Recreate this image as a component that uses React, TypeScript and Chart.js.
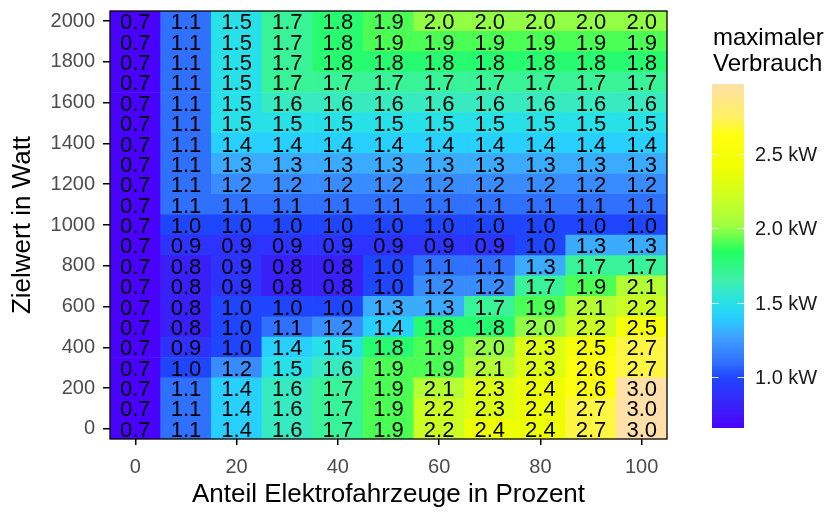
import React, { useEffect, useRef } from "react";
import { Chart, registerables } from "chart.js";

Chart.register(...registerables);

// ---------- data ----------
const anteilProzent = [0, 10, 20, 30, 40, 50, 60, 70, 80, 90, 100];
const zielwertWatt = [0, 100, 200, 300, 400, 500, 600, 700, 800, 900, 1000, 1100, 1200, 1300, 1400, 1500, 1600, 1700, 1800, 1900, 2000];
const xTickValues = [0, 20, 40, 60, 80, 100];
const yTickValues = [0, 200, 400, 600, 800, 1000, 1200, 1400, 1600, 1800, 2000];
const legendTickValues = [1.0, 1.5, 2.0, 2.5];

// maximaler Verbrauch (kW), one row per Zielwert (0 W first), one value per Anteil
const maxVerbrauch: number[][] = [
  [0.66, 1.1, 1.4, 1.6, 1.7, 1.9, 2.2, 2.4, 2.4, 2.7, 2.97], // 0
  [0.66, 1.1, 1.4, 1.6, 1.7, 1.9, 2.2, 2.3, 2.4, 2.7, 2.97], // 100
  [0.66, 1.1, 1.4, 1.6, 1.7, 1.9, 2.1, 2.3, 2.4, 2.6, 2.97], // 200
  [0.66, 1.0, 1.2, 1.5, 1.6, 1.9, 1.9, 2.1, 2.3, 2.6, 2.7], // 300
  [0.66, 0.9, 1.0, 1.4, 1.5, 1.8, 1.9, 2.0, 2.3, 2.5, 2.7], // 400
  [0.66, 0.8, 1.0, 1.1, 1.2, 1.4, 1.8, 1.8, 2.0, 2.2, 2.5], // 500
  [0.66, 0.8, 1.0, 1.0, 1.0, 1.3, 1.3, 1.7, 1.9, 2.1, 2.2], // 600
  [0.66, 0.8, 0.9, 0.8, 0.8, 1.0, 1.2, 1.2, 1.7, 1.9, 2.1], // 700
  [0.66, 0.8, 0.9, 0.8, 0.8, 1.0, 1.1, 1.1, 1.3, 1.7, 1.7], // 800
  [0.66, 0.9, 0.9, 0.9, 0.9, 0.9, 0.9, 0.9, 1.0, 1.3, 1.3], // 900
  [0.66, 1.0, 1.0, 1.0, 1.0, 1.0, 1.0, 1.0, 1.0, 1.0, 1.0], // 1000
  [0.66, 1.1, 1.1, 1.1, 1.1, 1.1, 1.1, 1.1, 1.1, 1.1, 1.1], // 1100
  [0.66, 1.1, 1.2, 1.2, 1.2, 1.2, 1.2, 1.2, 1.2, 1.2, 1.2], // 1200
  [0.66, 1.1, 1.3, 1.3, 1.3, 1.3, 1.3, 1.3, 1.3, 1.3, 1.3], // 1300
  [0.66, 1.1, 1.4, 1.4, 1.4, 1.4, 1.4, 1.4, 1.4, 1.4, 1.4], // 1400
  [0.66, 1.1, 1.5, 1.5, 1.5, 1.5, 1.5, 1.5, 1.5, 1.5, 1.5], // 1500
  [0.66, 1.1, 1.5, 1.6, 1.6, 1.6, 1.6, 1.6, 1.6, 1.6, 1.6], // 1600
  [0.66, 1.1, 1.5, 1.7, 1.7, 1.7, 1.7, 1.7, 1.7, 1.7, 1.7], // 1700
  [0.66, 1.1, 1.5, 1.7, 1.8, 1.8, 1.8, 1.8, 1.8, 1.8, 1.8], // 1800
  [0.66, 1.1, 1.5, 1.7, 1.8, 1.9, 1.9, 1.9, 1.9, 1.9, 1.9], // 1900
  [0.66, 1.1, 1.5, 1.7, 1.8, 1.9, 2.0, 2.0, 2.0, 2.0, 2.0], // 2000
];

// ---------- style ----------
const FONT = "'Liberation Sans', Arial, Helvetica, sans-serif";

const colorStops: [number, string][] = [
  [0.65, "#4B00FF"],
  [0.8, "#3A20F8"],
  [1.0, "#2045FF"],
  [1.1, "#3070FF"],
  [1.27, "#40A0FF"],
  [1.4, "#28D0FF"],
  [1.5, "#28E0E8"],
  [1.66, "#40F0A8"],
  [1.84, "#20FF60"],
  [2.02, "#A0FF40"],
  [2.22, "#D0FF20"],
  [2.41, "#F0FF00"],
  [2.63, "#FFFF10"],
  [2.74, "#FFF060"],
  [2.97, "#FFE0A8"],
];

function hexToRgb(h: string): number[] {
  const n = parseInt(h.slice(1), 16);
  return [(n >> 16) & 255, (n >> 8) & 255, n & 255];
}

function colorFor(v: number): string {
  if (v <= colorStops[0][0]) return colorStops[0][1];
  for (let i = 1; i < colorStops.length; i++) {
    const [v1, c1] = colorStops[i];
    if (v <= v1) {
      const [v0, c0] = colorStops[i - 1];
      const t = (v - v0) / (v1 - v0);
      const a = hexToRgb(c0);
      const b = hexToRgb(c1);
      const m = a.map((x, k) => Math.round(x + (b[k] - x) * t));
      return `rgb(${m[0]},${m[1]},${m[2]})`;
    }
  }
  return colorStops[colorStops.length - 1][1];
}

export default function App() {
  const ref = useRef<HTMLCanvasElement>(null);

  useEffect(() => {
    document.body.style.margin = "0";
    const canvas = ref.current;
    if (!canvas) return;

    const allVals = maxVerbrauch.flat();
    const vMin = Math.min(...allVals);
    const vMax = Math.max(...allVals);

    const datasets = zielwertWatt.map((z, r) => ({
      label: `${z} W`,
      data: anteilProzent.map((x) => ({ x, y: [z - 50, z + 50] })),
      values: maxVerbrauch[r],
      backgroundColor: maxVerbrauch[r].map(colorFor),
      borderWidth: 0,
      barPercentage: 1,
      categoryPercentage: 1,
    }));

    const cellLabelPlugin = {
      id: "cellLabels",
      afterDatasetsDraw(chart: any) {
        const { ctx, chartArea } = chart;
        ctx.save();
        ctx.beginPath();
        ctx.rect(chartArea.left, chartArea.top, chartArea.right - chartArea.left, chartArea.bottom - chartArea.top);
        ctx.clip();
        ctx.fillStyle = "#000";
        ctx.font = `22px ${FONT}`;
        ctx.textAlign = "center";
        ctx.textBaseline = "middle";
        chart.data.datasets.forEach((ds: any, di: number) => {
          const meta = chart.getDatasetMeta(di);
          meta.data.forEach((bar: any, j: number) => {
            const p = bar.getProps(["x", "y", "base"], true);
            const cy = (p.y + p.base) / 2 + 2;
            ctx.fillText(ds.values[j].toFixed(1), p.x, cy);
          });
        });
        ctx.restore();
      },
    };

    const legendPlugin = {
      id: "colorbar",
      afterDraw(chart: any) {
        const { ctx, chartArea } = chart;
        // panel border
        ctx.save();
        ctx.strokeStyle = "#000";
        ctx.lineWidth = 1.3;
        ctx.strokeRect(chartArea.left, chartArea.top, chartArea.right - chartArea.left, chartArea.bottom - chartArea.top);

        // legend title
        ctx.fillStyle = "#000";
        ctx.font = `24px ${FONT}`;
        ctx.textAlign = "left";
        ctx.textBaseline = "alphabetic";
        ctx.fillText("maximaler", 713, 45);
        ctx.fillText("Verbrauch", 713, 71);

        // color bar
        const barL = 712;
        const barW = 32;
        const barT = 84;
        const barB = 428;
        const yOf = (v: number) => barT + ((vMax - v) / (vMax - vMin)) * (barB - barT);
        const grad = ctx.createLinearGradient(0, barB, 0, barT);
        const stopsInRange = colorStops.map((s) => s[0]).filter((v) => v > vMin && v < vMax);
        [vMin, ...stopsInRange, vMax].forEach((v) => {
          grad.addColorStop((v - vMin) / (vMax - vMin), colorFor(v));
        });
        ctx.fillStyle = grad;
        ctx.fillRect(barL, barT, barW, barB - barT);

        // ticks and labels
        ctx.strokeStyle = "rgba(255,255,255,0.85)";
        ctx.lineWidth = 1;
        ctx.font = `20px ${FONT}`;
        ctx.fillStyle = "#1A1A1A";
        ctx.textBaseline = "middle";
        legendTickValues.forEach((v) => {
          const y = Math.round(yOf(v)) + 0.5;
          ctx.beginPath();
          ctx.moveTo(barL, y);
          ctx.lineTo(barL + 6.5, y);
          ctx.moveTo(barL + barW - 6.5, y);
          ctx.lineTo(barL + barW, y);
          ctx.stroke();
          ctx.fillText(`${v.toFixed(1)} kW`, 755, y + 1);
        });
        ctx.restore();
      },
    };

    const chart = new Chart(canvas, {
      type: "bar",
      data: { datasets: datasets as any },
      options: {
        responsive: false,
        animation: false,
        layout: { padding: { left: 0, right: 171, top: 11, bottom: 0 } },
        plugins: { legend: { display: false }, tooltip: { enabled: false } },
        scales: {
          x: {
            type: "linear",
            min: -5,
            max: 105,
            offset: false,
            stacked: true,
            afterBuildTicks: (s: any) => {
              s.ticks = xTickValues.map((v) => ({ value: v }));
            },
            afterFit: (s: any) => {
              s.height = 73;
              s.paddingLeft = 0;
              s.paddingRight = 0;
            },
            grid: { display: true, drawOnChartArea: false, drawTicks: true, tickLength: 6, color: "#000", lineWidth: 1.5, offset: false },
            border: { display: false },
            ticks: { color: "#4D4D4D", font: { family: FONT, size: 20 }, padding: 10, maxRotation: 0, autoSkip: false, callback: (v: any) => String(v) },
            title: { display: true, text: "Anteil Elektrofahrzeuge in Prozent", color: "#000", font: { family: FONT, size: 26 }, padding: { top: 0, bottom: 2 } },
          },
          y: {
            type: "linear",
            min: -50,
            max: 2050,
            stacked: false,
            afterBuildTicks: (s: any) => {
              s.ticks = yTickValues.map((v) => ({ value: v }));
            },
            afterFit: (s: any) => {
              s.width = 110;
              s.paddingTop = 0;
              s.paddingBottom = 0;
            },
            grid: { display: true, drawOnChartArea: false, drawTicks: true, tickLength: 7, color: "#000", lineWidth: 1.5 },
            border: { display: false },
            ticks: { color: "#4D4D4D", font: { family: FONT, size: 20 }, padding: 8, autoSkip: false, callback: (v: any) => String(v) },
            title: { display: true, text: "Zielwert in Watt", color: "#000", font: { family: FONT, size: 26 }, padding: { top: 7, bottom: 0 } },
          },
        },
      } as any,
      plugins: [cellLabelPlugin, legendPlugin],
    });

    return () => chart.destroy();
  }, []);

  return <canvas ref={ref} width={838} height={512} style={{ display: "block" }} />;
}
